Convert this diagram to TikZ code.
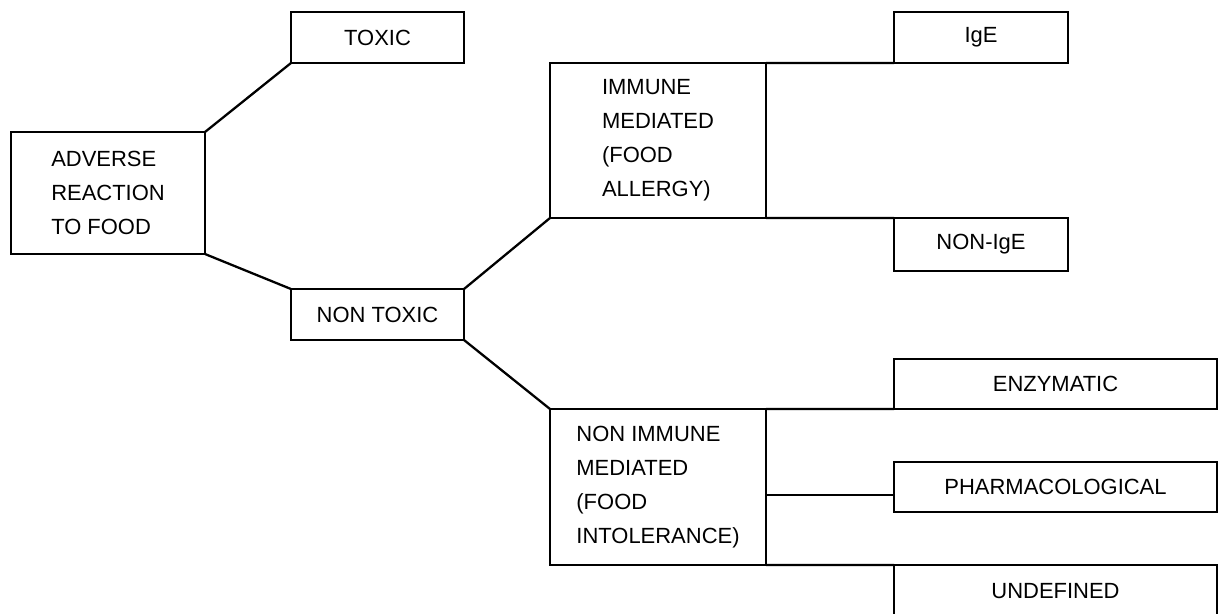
\documentclass[tikz,border=0pt]{standalone}
\usepackage{fontspec}
\setmainfont{Liberation Sans}
\usetikzlibrary{calc}

\begin{document}
\begin{tikzpicture}[line width=1.3pt,
  box/.style={draw,rectangle,align=left,inner sep=0pt,outer sep=0pt,
    font=\fontsize{12.5}{19.4}\selectfont}]
  \clip (0,0) rectangle (24.48,-12.26);

  \node [box,minimum width=3.88cm,minimum height=2.44cm] (adverse) at ( 2.16,-3.86) {ADVERSE\\REACTION\\TO FOOD};
  \node [box,minimum width=3.46cm,minimum height=1.02cm] (toxic)   at ( 7.55,-0.75) {TOXIC};
  \node [box,minimum width=3.46cm,minimum height=1.02cm] (nontox)  at ( 7.55,-6.29) {NON TOXIC};
  \path  (adverse.north east) edge (toxic.south west);
  \path  (adverse.south east) edge (nontox.north west);

  \node [box,minimum width=4.32cm,minimum height=3.10cm] (immune)  at (13.16,-2.81) {IMMUNE\\MEDIATED\\(FOOD\\ALLERGY)};
  \node [box,minimum width=4.32cm,minimum height=3.12cm] (nonimm)  at (13.16,-9.74) {NON IMMUNE\\MEDIATED\\(FOOD\\INTOLERANCE)};
  \path  (nontox.north east) edge (immune.south west);
  \path  (nontox.south east) edge (nonimm.north west);

  \node [box,minimum width=3.48cm,minimum height=1.02cm] (ige)     at (19.62,-0.75) {IgE};
  \node [box,minimum width=3.48cm,minimum height=1.06cm] (nonige)  at (19.62,-4.89) {NON-IgE};
  \path  (immune.north east) edge (ige.south west);
  \path  (immune.south east) edge (nonige.north west);

  \node [box,minimum width=6.46cm,minimum height=1.00cm] (enzym)   at (21.11,-7.68) {ENZYMATIC};
  \node [box,minimum width=6.46cm,minimum height=1.00cm] (pharma)  at (21.11,-9.74) {PHARMACOLOGICAL};
  \node [box,minimum width=6.46cm,minimum height=1.04cm] (undef)   at (21.11,-11.82) {UNDEFINED};
  \path  (nonimm.north east) edge (enzym.south west);
  \path  ([yshift=-0.16cm]nonimm.east) edge ([yshift=-0.16cm]pharma.west);
  \path  (nonimm.south east) edge (undef.north west);
\end{tikzpicture}
\end{document}
